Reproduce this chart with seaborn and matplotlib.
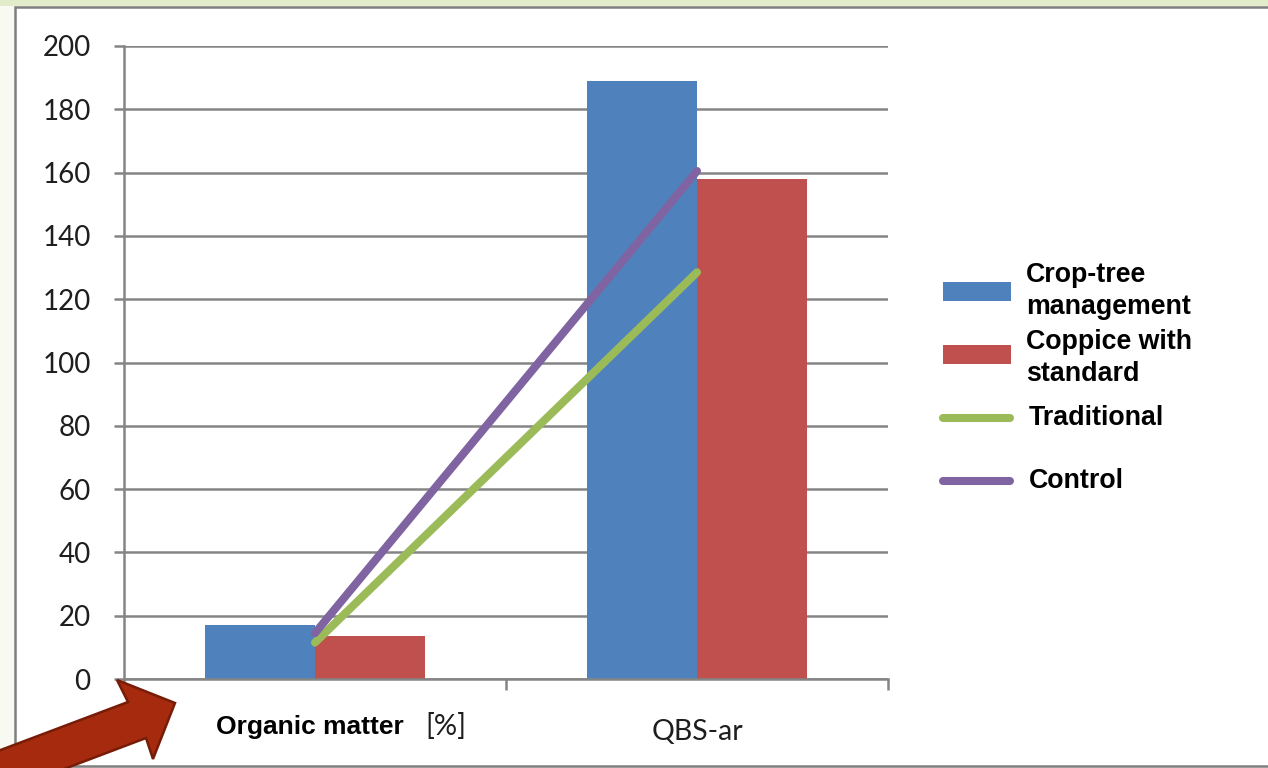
import numpy as np
import pandas as pd
import matplotlib.pyplot as plt
import seaborn as sns
from matplotlib.patches import Polygon, Rectangle
from matplotlib.lines import Line2D

# Data
categories = ["Organic matter", "QBS-ar"]
crop_tree = [17.0, 189.0]
coppice = [13.5, 158.0]
traditional = [11.5, 128.5]
control = [14.5, 160.5]
y_ticks = list(range(0, 201, 20))

bar_names = ["Crop-tree management", "Coppice with standard"]
bar_labels = ["Crop-tree\nmanagement", "Coppice with\nstandard"]
line_names = ["Traditional", "Control"]

blue = "#4F81BD"
red = "#C0504D"
green = "#9BBB59"
purple = "#8064A2"
grid_grey = "#858585"

W, H = 1268, 768


def px(x, y):
    # image pixel (from top-left) -> figure fraction
    return x / W, 1 - y / H


sns.set_theme(style="white")
plt.rcParams["font.family"] = ["Lato", "DejaVu Sans"]

fig = plt.figure(figsize=(W / 100, H / 100), dpi=100, facecolor="#F8FAF2")

# slide-ish background: green strip on top, white framed panel
fig.patches.append(Rectangle(px(0, 6), 1, 6 / H, transform=fig.transFigure,
                             facecolor="#E2EBCA", edgecolor="none", zorder=-2))
fig.patches.append(Rectangle(px(15, 766), (W - 10) / W, 759 / H, transform=fig.transFigure,
                             facecolor="white", edgecolor="#7F7F7F", lw=1.8, zorder=-1))

ax = fig.add_axes([124 / W, (H - 679) / H, 764 / W, 633 / H])
ax.set_facecolor("none")

df = pd.DataFrame({
    "category": categories * 2,
    "series": [bar_names[0]] * len(categories) + [bar_names[1]] * len(categories),
    "value": crop_tree + coppice,
})
sns.barplot(data=df, x="category", y="value", hue="series",
            palette=[blue, red], saturation=1, width=0.576, linewidth=0,
            errorbar=None, legend=False, ax=ax, zorder=2)

x = np.arange(len(categories))
ax.plot(x, traditional, color=green, lw=5.8, solid_capstyle="round", zorder=3)
ax.plot(x, control, color=purple, lw=5.8, solid_capstyle="round", zorder=3)

ax.set_xlim(-0.5, len(categories) - 0.5)
ax.set_ylim(0, 200)
ax.set_yticks(y_ticks)
ax.set_yticklabels([str(v) for v in y_ticks], fontsize=20, color="#1E1E1E")
ax.yaxis.grid(True, color=grid_grey, lw=1.8)
ax.set_axisbelow(True)
ax.tick_params(axis="y", length=7, width=1.8, color=grid_grey, pad=17, left=True)

ax.set_xticks(x)
ax.set_xticklabels(["", categories[1]], fontsize=20.5, color="#1E1E1E")
ax.set_xticks(np.arange(len(categories) + 1) - 0.5, minor=True)
ax.tick_params(axis="x", which="major", length=0, pad=29)
ax.tick_params(axis="x", which="minor", length=8, width=1.8, color=grid_grey, bottom=True)
ax.set_xlabel("")
ax.set_ylabel("")

for side in ["top", "right"]:
    ax.spines[side].set_visible(False)
for side in ["left", "bottom"]:
    ax.spines[side].set_color(grid_grey)
    ax.spines[side].set_linewidth(1.8)

# first category label: bold name plus unit in regular face
ax.text(-0.013, -0.0758, categories[0], transform=ax.get_xaxis_transform(),
        ha="center", va="center", fontsize=19, fontweight="bold",
        family=["Liberation Sans", "DejaVu Sans"], color="black")
ax.text(0.343, -0.0758, "[%]", transform=ax.get_xaxis_transform(),
        ha="center", va="center", fontsize=21, color="#1E1E1E")

# legend, laid out like the Excel one
leg_font = dict(fontsize=19.3, fontweight="bold", family=["Liberation Sans", "DejaVu Sans"],
                color="black", ha="left", va="center", linespacing=1.28)
for (y_top, color) in [(282, blue), (345, red)]:
    fig.patches.append(Rectangle(px(943, y_top + 19), 68 / W, 19 / H,
                                 transform=fig.transFigure, facecolor=color, edgecolor="none"))
for (yc, label) in [(291, bar_labels[0]), (358, bar_labels[1])]:
    fig.text(*px(1026, yc), label, **leg_font)
for (yc, color, label) in [(418, green, line_names[0]), (481, purple, line_names[1])]:
    x0, y0 = px(943, yc)
    x1, _ = px(1010, yc)
    fig.add_artist(Line2D([x0, x1], [y0, y0], transform=fig.transFigure,
                          color=color, lw=5.8, solid_capstyle="round"))
    fig.text(*px(1029, yc), label, **leg_font)

# red arrow pointing at the axis origin
arrow_pts = [(-10, 754), (128, 702), (117, 680), (175, 703), (153, 759), (146, 738), (-10, 797)]
fig.patches.append(Polygon([px(a, b) for a, b in arrow_pts], closed=True,
                           transform=fig.transFigure, facecolor="#A52A0E",
                           edgecolor="#761C07", lw=1.8, zorder=10))

fig.savefig("out.png", dpi=100, facecolor=fig.get_facecolor())
